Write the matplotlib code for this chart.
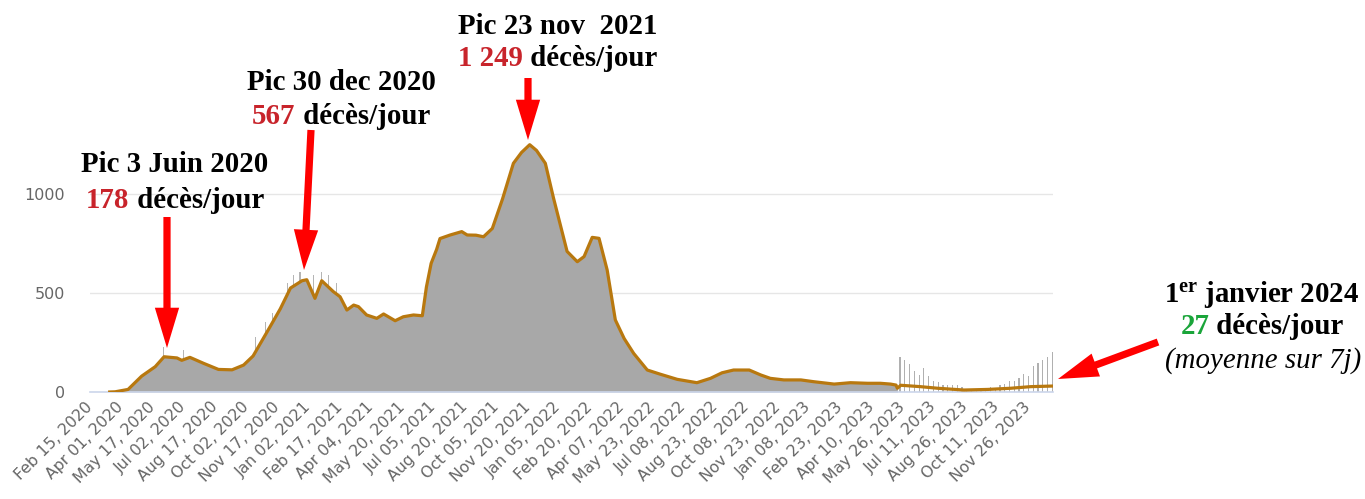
import matplotlib
matplotlib.use("Agg")
import matplotlib.pyplot as plt
from matplotlib.offsetbox import TextArea, HPacker, AnnotationBbox
import pandas as pd
import numpy as np

# ---------------- data ----------------
avg_dates = [
    "2020-03-15", "2020-03-23", "2020-04-11", "2020-05-01", "2020-05-21", "2020-06-03",
    "2020-06-22", "2020-06-29", "2020-07-11", "2020-07-31", "2020-08-22", "2020-09-11",
    "2020-09-28", "2020-10-12", "2020-11-06", "2020-11-21", "2020-12-06", "2020-12-23",
    "2020-12-30", "2021-01-11", "2021-01-21", "2021-02-07", "2021-02-17", "2021-02-27",
    "2021-03-09", "2021-03-16", "2021-03-28", "2021-04-12", "2021-04-22", "2021-05-09",
    "2021-05-21", "2021-06-05", "2021-06-18", "2021-06-24", "2021-07-01", "2021-07-09",
    "2021-07-14", "2021-07-29", "2021-08-15", "2021-08-23", "2021-09-05", "2021-09-16",
    "2021-09-29", "2021-10-14", "2021-10-30", "2021-11-11", "2021-11-23", "2021-12-03",
    "2021-12-16", "2021-12-28", "2022-01-17", "2022-02-01", "2022-02-11", "2022-02-23",
    "2022-03-05", "2022-03-17", "2022-03-29", "2022-04-11", "2022-04-25", "2022-05-15",
    "2022-06-03", "2022-06-28", "2022-07-27", "2022-08-16", "2022-09-02", "2022-09-19",
    "2022-10-12", "2022-10-29", "2022-11-12", "2022-12-02", "2022-12-27", "2023-01-15",
    "2023-02-14", "2023-03-10", "2023-04-04", "2023-04-23", "2023-05-08", "2023-05-16",
    "2023-05-18", "2023-05-23", "2023-06-21", "2023-07-16", "2023-08-24", "2023-09-28",
    "2023-11-01", "2023-11-30", "2024-01-01",
]
avg_values = [
    0, 1, 13, 80, 128, 178,
    172, 160, 175, 145, 114, 112,
    136, 182, 330, 420, 525, 562,
    567, 473, 562, 507, 481, 414,
    439, 431, 389, 372, 394, 360,
    380, 389, 385, 530, 650, 720,
    775, 793, 810, 793, 792, 784,
    826, 975, 1155, 1210, 1249, 1220,
    1155, 980, 710, 658, 684, 781,
    776, 616, 364, 270, 195, 111,
    90, 64, 47, 69, 97, 111,
    111, 86, 69, 61, 61, 52,
    40, 47, 44, 44, 40, 35,
    19, 34, 27, 19, 10, 13,
    19, 27, 30,
]
daily_fill_end = "2023-05-22"   # after this date deaths were reported weekly

spike_dates = [
    "2020-06-02", "2020-07-01", "2020-10-15", "2020-10-30", "2020-11-09", "2020-12-01",
    "2020-12-10", "2020-12-20", "2021-01-09", "2021-01-21", "2021-01-31", "2021-02-12",
]
spike_values = [229, 212, 279, 355, 397, 549, 591, 608, 591, 608, 591, 549]

weekly_end = "2024-01-01"
weekly_values = [
    176, 163, 139, 105, 88, 120, 82, 58, 50, 33, 33, 33, 33, 24,
    12, 12, 12, 12, 12, 24, 12, 33, 41, 58, 58, 72, 92, 83, 129, 145, 163, 176, 201,
]

tick_start = "2020-02-15"
tick_step_days = 46
n_ticks = 31

annotations = [
    # (title, number, number colour)
    ("Pic 3 Juin 2020", "178", "#C8242B"),
    ("Pic 30 dec 2020", "567", "#C8242B"),
    ("Pic 23 nov  2021", "1 249", "#C8242B"),
]
final_title = "1$^{\\mathrm{er}}$ janvier 2024"
final_number = "27"
final_note = "(moyenne sur 7j)"

# ---------------- figure ----------------
plt.rcParams["mathtext.fontset"] = "custom"
plt.rcParams["mathtext.rm"] = "Liberation Serif:bold"
plt.rcParams["mathtext.it"] = "Liberation Serif:bold:italic"
plt.rcParams["mathtext.bf"] = "Liberation Serif:bold"

W, H = 1365, 499
fig = plt.figure(figsize=(W / 100, H / 100), dpi=100)
ax_left, ax_right, ax_bottom, ax_top = 90, 1053, 392, 134.6
ax = fig.add_axes([ax_left / W, (H - ax_bottom) / H,
                   (ax_right - ax_left) / W, (ax_bottom - ax_top) / H])

d_avg = pd.to_datetime(avg_dates)
v_avg = np.array(avg_values, dtype=float)
fill_mask = d_avg <= pd.Timestamp(daily_fill_end)

d_week = pd.date_range(end=weekly_end, periods=len(weekly_values), freq="7D")

ax.bar(pd.to_datetime(spike_dates), spike_values, width=1.6, color="#B5B5B5", zorder=1)
ax.fill_between(d_avg[fill_mask], v_avg[fill_mask], 0, color="#A8A8A8", lw=0, zorder=2)
ax.bar(d_week, weekly_values, width=1.8, color="#B0B0B0", zorder=2)
ax.plot(d_avg, v_avg, color="#B8780F", lw=2.3, zorder=3, solid_joinstyle="round")

ax.set_xlim(pd.Timestamp(tick_start), pd.Timestamp("2024-01-02"))
ax.set_ylim(0, 1300)
ax.set_yticks([0, 500, 1000])
ax.grid(axis="y", color="#E6E6E6", lw=1)
ax.set_axisbelow(True)
for s in ["top", "right", "left"]:
    ax.spines[s].set_visible(False)
ax.spines["bottom"].set_color("#CCD6EB")
ax.spines["bottom"].set_linewidth(1.2)
ax.tick_params(axis="y", length=0, pad=18, labelsize=11.5, labelcolor="#666666")

ticks = pd.date_range(tick_start, periods=n_ticks, freq=f"{tick_step_days}D")
ax.set_xticks(ticks)
ax.set_xticklabels([t.strftime("%b %d, %Y") for t in ticks])
ax.tick_params(axis="x", length=0, pad=9, labelsize=11.3, labelcolor="#666666")
for lab in ax.get_xticklabels():
    lab.set_rotation(45)
    lab.set_ha("right")
    lab.set_va("center")
    lab.set_rotation_mode("anchor")

# ---------------- annotations ----------------
serif = "Liberation Serif"
FS = 20.8


def line_box(parts):
    children = [TextArea(t, textprops=dict(family=serif, weight=w, size=FS, color=c, style=st))
                for t, c, w, st in parts]
    return HPacker(children=children, align="baseline", pad=0, sep=0)


def place(box, cx, cy):
    ab = AnnotationBbox(box, (cx / W, 1 - cy / H), xycoords="figure fraction",
                        frameon=False, box_alignment=(0.5, 0.5), pad=0)
    fig.add_artist(ab)


title_pos = [(175, 165), (341, 83), (558, 26)]
num_pos = [(175, 200), (341, 116), (558, 58)]
for (title, num, col), tp, np_ in zip(annotations, title_pos, num_pos):
    place(line_box([(title, "black", "bold", "normal")]), *tp)
    place(line_box([(num, col, "bold", "normal"), (" décès/jour", "black", "bold", "normal")]), *np_)

place(line_box([(final_title, "black", "bold", "normal")]), 1262, 294)
place(line_box([(final_number, "#1AA53A", "bold", "normal"), (" décès/jour", "black", "bold", "normal")]), 1262, 327)
place(line_box([(final_note, "black", "normal", "italic")]), 1263, 361)

arrows = [((167, 217), (167, 348)), ((311, 130), (304, 270)), ((528, 78), (528, 140)),
          ((1158, 342), (1058, 379))]
for (tx, ty), (hx, hy) in arrows:
    fig.add_artist(matplotlib.patches.FancyArrowPatch(
        (tx / W, 1 - ty / H), (hx / W, 1 - hy / H), transform=fig.transFigure,
        arrowstyle="simple,head_length=2.9,head_width=1.75,tail_width=0.52",
        mutation_scale=10, color="#FF0000", lw=0, shrinkA=0, shrinkB=0, zorder=10))

fig.savefig("out.png", dpi=100)
